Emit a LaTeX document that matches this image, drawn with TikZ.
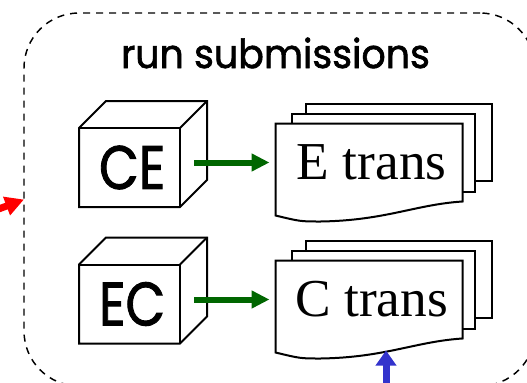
\documentclass[tikz,border=0pt]{standalone}
\usepackage{fontspec}
\setmainfont{Liberation Serif}
\newfontfamily\comicfont[FakeBold=1.6]{Poppins}
\usetikzlibrary{arrows.meta,calc,backgrounds}
\definecolor{arrowgreen}{RGB}{0,102,0}
\definecolor{arrowblue}{RGB}{51,51,204}
\definecolor{arrowred}{RGB}{255,0,0}
\begin{document}
\begin{tikzpicture}[x=0.75pt,y=-0.75pt,
  framebox/.style={draw=black, line width=1.1pt, dash pattern=on 5.25pt off 4.5pt,
    rounded corners=41.25pt, minimum width=383.25pt, minimum height=279.75pt,
    inner sep=0pt, outer sep=0pt},
  titletext/.style={font=\comicfont\fontsize{30}{34}\selectfont, inner sep=0pt},
  cubeface/.style={minimum width=75.75pt, minimum height=59.25pt, inner sep=0pt,
    outer sep=0pt, font=\comicfont\fontsize{46}{50}\selectfont},
  cubeedge/.style={draw=black, line width=1.5pt, line join=miter},
  docnode/.style={minimum width=140.25pt, minimum height=58.5pt, inner sep=0pt,
    outer sep=0pt, font=\fontsize{40}{44}\selectfont},
  page/.style={draw=black, line width=1.5pt, fill=white, line join=miter},
  garrow/.style={draw=arrowgreen, line width=4.5pt,
    -{Triangle[length=13.5pt,width=12.75pt]}},
  barrow/.style={draw=arrowblue, line width=5.25pt,
    -{Triangle[length=11.25pt,width=15pt]}},
  rarrow/.style={draw=arrowred, line width=5.25pt,
    -{Triangle[length=14pt,width=14pt]}}
]
\path[use as bounding box, clip] (0,0) rectangle (527,382);

% container
\node[framebox] (frame) at (279.5,199.5) {};
\node[titletext, anchor=base] (title) at (275.5,68) {\scalebox{0.95}[1]{run submissions}};

% cubes
\node[cubeface] (ce) at (129.5,167.5) {\hspace*{4pt}\scalebox{0.84}[1]{CE}};
\node[cubeface] (ec) at (129.5,304) {\hspace*{4pt}\scalebox{0.84}[1]{EC}};
\foreach \c in {ce,ec}{
  \draw[cubeedge] (\c.south west) -- (\c.north west) -- ++(27,-27) -- ++(101,0)
    -- ++(0,79) -- (\c.south east) -- cycle;
  \draw[cubeedge] (\c.north west) -- (\c.north east) -- (\c.south east);
  \draw[cubeedge] (\c.north east) -- ++(27,-27);
}

% documents
\node[docnode] (et) at (369,162.5) {\hspace*{4pt}E trans};
\node[docnode] (ct) at (369,299.5) {\hspace*{4pt}C trans};
\begin{scope}[on background layer]
\foreach \d in {et,ct}{
  \draw[page] ($(\d.north west)+(30,-20)$) rectangle ($(\d.south east)+(29,-21)$);
  \draw[page] ($(\d.north west)+(16,-10)$) rectangle ($(\d.south east)+(12,-10)$);
  \draw[page] (\d.north west) -- (\d.north east) -- (\d.south east)
    .. controls ($(\d.south west)+(140,3)$) and ($(\d.south west)+(110,19)$) ..
    ($(\d.south west)+(45,20)$)
    .. controls ($(\d.south west)+(25,20)$) .. ($(\d.south west)+(0,14)$) -- cycle;
}
\end{scope}

% connectors
\draw[garrow] ($(ce.east |- et.west)+(14,0)$) -- ($(et.west)+(-6,0)$);
\draw[garrow] ($(ec.east |- ct.west)+(14,0)$) -- ($(ct.west)+(-6,0)$);
\coordinate (btail) at (386,400);
\draw[barrow] (btail) -- ($(btail |- ct.south)+(0,12)$);
\coordinate (rtail) at (-20,216);
\draw[rarrow] (rtail) -- (frame.west);
\end{tikzpicture}
\end{document}
